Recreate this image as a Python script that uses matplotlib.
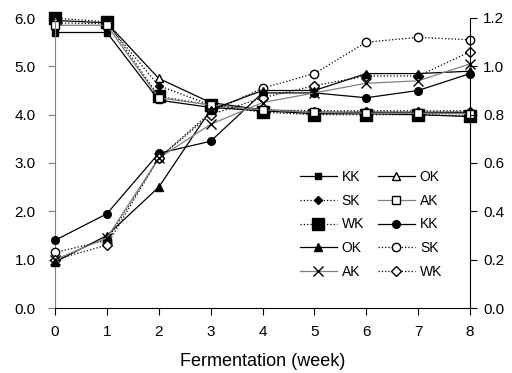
import numpy as np
import matplotlib.pyplot as plt

plt.rcParams['font.family'] = ['Liberation Sans', 'DejaVu Sans']

weeks = [0, 1, 2, 3, 4, 5, 6, 7, 8]

# pH (left axis)
ph_kk = [5.70, 5.70, 4.30, 4.15, 4.08, 4.02, 4.02, 4.00, 3.96]
ph_sk = [5.90, 5.88, 4.60, 4.20, 4.10, 4.08, 4.08, 4.08, 4.08]
ph_wk = [6.00, 5.92, 4.38, 4.20, 4.05, 4.00, 4.00, 4.00, 3.98]
ph_ok = [5.95, 5.90, 4.75, 4.25, 4.10, 4.05, 4.05, 4.05, 4.05]
ph_ak = [5.85, 5.85, 4.35, 4.20, 4.10, 4.05, 4.03, 4.03, 4.02]

# acidity (right axis)
ac_kk = [0.28, 0.39, 0.64, 0.69, 0.89, 0.89, 0.87, 0.90, 0.97]
ac_sk = [0.23, 0.28, 0.62, 0.81, 0.91, 0.97, 1.10, 1.12, 1.11]
ac_wk = [0.20, 0.26, 0.62, 0.80, 0.87, 0.92, 0.96, 0.96, 1.06]
ac_ok = [0.19, 0.30, 0.50, 0.82, 0.90, 0.90, 0.97, 0.97, 0.98]
ac_ak = [0.20, 0.29, 0.62, 0.76, 0.85, 0.89, 0.93, 0.94, 1.01]

gray = '#808080'

fig = plt.figure(figsize=(5.12, 3.73), dpi=100)
ax = fig.add_axes([55/512, 1-308/373, 415/512, 290/373])
ax2 = ax.twinx()

kw = dict(lw=0.9, clip_on=False)
h1, = ax.plot(weeks, ph_kk, '-', color='black', marker='s', ms=5, label='KK', **kw)
h2, = ax.plot(weeks, ph_sk, ':', color='black', marker='D', ms=4, label='SK', **kw)
h3, = ax.plot(weeks, ph_wk, ':', color='black', marker='s', ms=9, label='WK', **kw)
h6, = ax.plot(weeks, ph_ok, '-', color='black', marker='^', ms=6, mfc='white', label='OK', **kw)
h7, = ax.plot(weeks, ph_ak, '-', color=gray, marker='s', ms=6, mfc='white', mec='black', label='AK', **kw)

h8, = ax2.plot(weeks, ac_kk, '-', color='black', marker='o', ms=5.5, label='KK', **kw)
h9, = ax2.plot(weeks, ac_sk, ':', color='black', marker='o', ms=6, mfc='white', label='SK', **kw)
h10, = ax2.plot(weeks, ac_wk, ':', color='black', marker='D', ms=5, mfc='white', label='WK', **kw)
h4, = ax2.plot(weeks, ac_ok, '-', color='black', marker='^', ms=6, label='OK', **kw)
h5, = ax2.plot(weeks, ac_ak, '-', color=gray, marker='x', ms=7, mec='black', label='AK', **kw)

ax.set_xlim(0, 8)
ax.set_ylim(0, 6)
ax2.set_ylim(0, 1.2)
ax.set_xticks(weeks)
ax.set_yticks(np.arange(0, 6.01, 1.0))
ax.set_yticklabels(['%.1f' % v for v in np.arange(0, 6.01, 1.0)])
ax2.set_yticks(np.arange(0, 1.21, 0.2))
ax2.set_yticklabels(['%.1f' % v for v in np.arange(0, 1.21, 0.2)])

for a in (ax, ax2):
    a.spines['top'].set_visible(False)
    a.tick_params(labelsize=11, direction='out', length=5, width=0.8)
ax.tick_params(axis='y', pad=9, colors=gray, labelcolor='black')
ax.tick_params(axis='x', pad=7)
ax2.tick_params(axis='y', pad=4.5)
ax.spines['left'].set_color(gray)
ax2.spines['left'].set_visible(False)
ax2.spines['bottom'].set_visible(False)
ax.spines['right'].set_visible(False)

ax.set_xlabel('Fermentation (week)', fontsize=13, labelpad=10)

handles = [h1, h2, h3, h4, h5, h6, h7, h8, h9, h10]
fig.legend(handles, [h.get_label() for h in handles], ncol=2, frameon=False,
           loc='upper left', bbox_to_anchor=(300/512, 1-170/373),
           fontsize=10, handlelength=2.65, handletextpad=0.36,
           columnspacing=1.0, labelspacing=0.7, borderpad=0, borderaxespad=0)

fig.savefig('out.png', dpi=100)
